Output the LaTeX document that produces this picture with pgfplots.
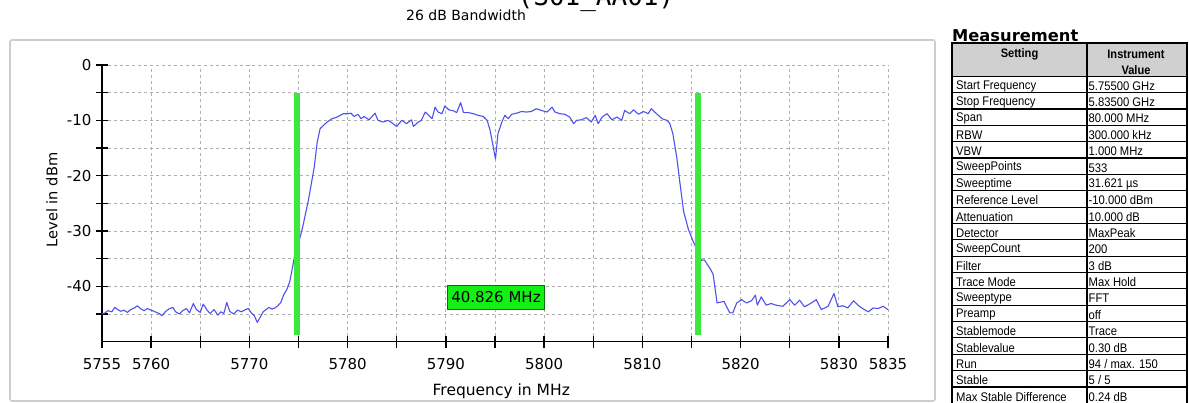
\documentclass[border=0pt]{standalone}
\usepackage{pgfplots}
\pgfplotsset{compat=1.18}
\usepackage{fontspec}
\setmainfont{DejaVu Sans}
\newfontfamily\tblfont[FakeStretch=0.9]{Liberation Sans}
\newfontfamily\monofont{DejaVu Sans Mono}
\definecolor{trace}{RGB}{80,80,240}
\definecolor{mkgreen}{RGB}{60,232,60}
\definecolor{boxgreen}{RGB}{20,240,20}
\definecolor{hdrgray}{RGB}{208,208,208}
\definecolor{gridgray}{RGB}{175,175,175}
\definecolor{framegray}{RGB}{205,205,205}

\newcommand{\trow}[3]{%
  \pgfmathsetmacro{\yy}{402-76.3-16.35*(#1+0.5)-1.5}%
  \node[anchor=west,inner sep=0pt,font=\tblfont\fontsize{12.5}{14}\selectfont] at (956pt,\yy pt) {#2};%
  \node[anchor=west,inner sep=0pt,font=\tblfont\fontsize{12.5}{14}\selectfont] at (1088.5pt,\yy pt) {#3};}

\begin{document}
\begin{tikzpicture}
\useasboundingbox (0pt,0pt) rectangle (1189pt,402pt);
% outer frame of the chart
\draw[framegray, line width=1.6pt, rounded corners=2pt] (10pt,1pt) rectangle (935pt,362pt);
% clipped top title
\node[anchor=base, font=\monofont\fontsize{26}{30}\selectfont, inner sep=0pt] at (596pt,396pt) {(S01\_AA01)};
\node[font=\fontsize{14}{16}\selectfont] at (466pt,387pt) {26 dB Bandwidth};

\begin{axis}[
  at={(102pt,60.3pt)}, anchor=south west,
  scale only axis, width=786pt, height=276.7pt,
  xmin=5755, xmax=5835, ymin=-50, ymax=0,
  axis x line*=bottom, axis y line*=left,
  axis line style={-, black, line width=1.5pt},
  xtick={5755,5760,5765,5770,5775,5780,5785,5790,5795,5800,5805,5810,5815,5820,5825,5830,5835},
  xticklabels={5755,5760,{},5770,{},5780,{},5790,{},5800,{},5810,{},5820,{},5830,5835},
  ytick={-40,-30,-20,-10,0},
  yticklabels={-40,-30,-20,-10,0},
  minor ytick={-45,-35,-25,-15,-5},
  grid=both,
  major grid style={gridgray, dashed, line width=0.9pt, dash pattern=on 3pt off 3pt},
  minor grid style={gridgray, dashed, line width=0.9pt, dash pattern=on 3pt off 3pt},
  tick align=center,
  major tick length=12pt, minor tick length=12pt,
  every tick/.style={black, line width=1.3pt},
  minor tick style={black, line width=1.3pt},
  tick label style={font=\fontsize{15}{17}\selectfont},
  /pgf/number format/assume math mode=true,
  xticklabel style={yshift=-7pt},
  yticklabel style={xshift=-1pt},
  xlabel={Frequency in MHz},
  ylabel={Level in dBm},
  xlabel style={font=\fontsize{15.5}{18}\selectfont, at={(axis description cs:0.508,-0.178)}, anchor=center},
  ylabel style={font=\fontsize{14.6}{17}\selectfont, at={(axis description cs:-0.0636,0.512)}, anchor=center, rotate=0},
  clip=false,
]
\addplot[color=trace, line width=1.1pt, line join=round] coordinates {
(5755.0,-45.0) (5755.3,-44.8) (5755.6,-44.4) (5756.0,-44.6) (5756.3,-43.8) (5756.6,-44.2)
(5756.9,-44.5) (5757.2,-44.3) (5757.6,-44.7) (5757.9,-44.2) (5758.3,-43.9) (5758.6,-43.5)
(5758.9,-44.0) (5759.3,-44.4) (5759.6,-44.0) (5760.0,-44.3) (5760.4,-44.6) (5760.8,-44.9)
(5761.1,-45.3) (5761.5,-44.5) (5761.8,-44.1) (5762.2,-43.8) (5762.5,-44.6) (5762.9,-45.0)
(5763.2,-44.4) (5763.6,-44.0) (5763.9,-44.8) (5764.3,-43.1) (5764.6,-44.2) (5765.0,-44.7)
(5765.3,-43.2) (5765.7,-44.3) (5766.0,-44.9) (5766.4,-44.2) (5766.8,-45.2) (5767.1,-44.6)
(5767.4,-44.9) (5767.7,-42.9) (5768.0,-44.5) (5768.4,-45.0) (5768.8,-44.3) (5769.2,-44.6)
(5769.6,-44.2) (5769.9,-44.0) (5770.2,-44.8) (5770.5,-45.3) (5770.8,-46.5) (5771.1,-45.6)
(5771.4,-44.6) (5771.7,-44.2) (5772.0,-43.8) (5772.3,-44.1) (5772.6,-43.9) (5772.9,-43.5)
(5773.2,-42.9) (5773.5,-41.5) (5773.8,-40.6) (5774.1,-39.2) (5774.4,-36.5) (5774.6,-34.5)
(5774.8,-33.0) (5775.1,-31.5) (5775.4,-29.5) (5775.7,-27.0) (5776.0,-24.5) (5776.3,-21.5)
(5776.6,-18.5) (5776.9,-14.0) (5777.2,-11.5) (5777.6,-10.8) (5778.0,-10.2) (5778.4,-9.7)
(5778.8,-9.5) (5779.05,-9.3) (5779.56,-8.8) (5780.04,-8.8) (5780.34,-8.7) (5780.65,-9.3)
(5781.06,-8.9) (5781.36,-9.7) (5781.67,-9.3) (5782.18,-9.9) (5782.79,-8.7) (5783.09,-10.0)
(5783.6,-10.3) (5784.11,-10.0) (5784.62,-10.6) (5785.0,-11.1) (5785.5,-10.0) (5786.0,-10.6)
(5786.5,-9.9) (5786.7,-11.1) (5787.2,-10.3) (5787.5,-10.0) (5787.9,-8.5) (5788.2,-9.0)
(5788.6,-9.7) (5788.9,-7.6) (5789.2,-8.5) (5789.6,-8.8) (5789.9,-7.4) (5790.3,-8.1)
(5790.8,-8.3) (5791.1,-8.6) (5791.5,-6.8) (5791.8,-8.6) (5792.3,-8.6) (5792.8,-8.8)
(5793.3,-9.1) (5793.8,-9.3) (5794.2,-10.0) (5794.5,-11.8) (5794.8,-14.6) (5795.05,-17.0)
(5795.3,-12.4) (5795.7,-10.3) (5796.0,-9.1) (5796.35,-9.7) (5796.7,-8.9) (5797.2,-8.7)
(5797.7,-8.4) (5798.2,-8.5) (5798.7,-8.4) (5799.2,-7.9) (5799.7,-8.2) (5800.3,-8.5)
(5800.8,-7.6) (5801.1,-8.5) (5801.6,-8.8) (5802.1,-8.9) (5802.6,-9.4) (5803.0,-10.6)
(5803.3,-10.0) (5803.8,-9.9) (5804.3,-9.5) (5804.8,-10.3) (5805.2,-9.1) (5805.5,-10.6)
(5805.9,-9.4) (5806.4,-8.8) (5806.9,-9.9) (5807.4,-9.4) (5807.9,-10.0) (5808.2,-8.2)
(5808.7,-8.8) (5809.1,-8.1) (5809.6,-8.9) (5810.1,-8.4) (5810.6,-8.8) (5810.9,-7.9)
(5811.5,-8.9) (5812.0,-9.7) (5812.5,-10.0) (5812.8,-10.6) (5813.1,-12.4) (5813.5,-16.7)
(5813.8,-21.0) (5814.2,-26.5) (5814.7,-29.8) (5815.2,-32.0) (5815.6,-33.5) (5816.0,-35.3)
(5816.3,-35.2) (5816.9,-36.8) (5817.2,-37.8) (5817.6,-43.0) (5818.3,-42.7) (5818.9,-44.8)
(5819.2,-44.8) (5819.6,-43.0) (5820.1,-42.4) (5820.6,-43.0) (5821.1,-42.6) (5821.5,-41.6)
(5821.7,-43.4) (5822.1,-41.9) (5822.6,-43.4) (5823.1,-43.1) (5823.6,-43.4) (5824.3,-43.6)
(5825.0,-42.4) (5825.5,-43.4) (5826.0,-42.5) (5826.5,-43.7) (5827.2,-43.0) (5827.7,-42.4)
(5828.2,-44.2) (5828.9,-43.6) (5829.5,-41.3) (5829.9,-43.7) (5830.4,-43.5) (5830.9,-43.9)
(5831.5,-42.6) (5832.0,-43.5) (5832.5,-44.1) (5833.0,-44.6) (5833.5,-43.9) (5834.0,-44.0)
(5834.5,-43.6) (5835.0,-44.2)
};
\addplot[color=mkgreen, line width=6pt] coordinates {(5774.8,-5.1) (5774.8,-48.8)};
\addplot[color=mkgreen, line width=6pt] coordinates {(5815.626,-5.1) (5815.626,-48.8)};
\node[fill=boxgreen, draw=green!45!black, line width=0.5pt, inner xsep=4pt, minimum height=24pt,
      font=\fontsize{15}{17}\selectfont] at (axis cs:5795.1,-41.9) {40.826 MHz};
\end{axis}

% measurement table
\node[anchor=base west, inner sep=0pt, font=\bfseries\fontsize{16.3}{18}\selectfont] at (952pt,360.8pt) {Measurement};
\fill[hdrgray] (952pt,359pt) rectangle (1187pt,325.7pt);
\foreach \k in {0,...,19} {
  \draw[black, line width=1.1pt] (952pt,{(325.7-16.35*\k)*1pt}) -- (1187pt,{(325.7-16.35*\k)*1pt});
}
\draw[black, line width=1.3pt] (952pt,-2pt) -- (952pt,359pt) -- (1187pt,359pt) -- (1187pt,-2pt);
\draw[black, line width=1.1pt] (1087pt,359pt) -- (1087pt,-2pt);
\node[font=\tblfont\bfseries\fontsize{12.3}{14}\selectfont] at (1019.5pt,348pt) {Setting};
\node[font=\tblfont\bfseries\fontsize{12.3}{14}\selectfont] at (1136pt,348pt) {Instrument};
\node[font=\tblfont\bfseries\fontsize{12.3}{14}\selectfont] at (1136pt,331.5pt) {Value};
\trow{0}{Start Frequency}{5.75500 GHz}
\trow{1}{Stop Frequency}{5.83500 GHz}
\trow{2}{Span}{80.000 MHz}
\trow{3}{RBW}{300.000 kHz}
\trow{4}{VBW}{1.000 MHz}
\trow{5}{SweepPoints}{533}
\trow{6}{Sweeptime}{31.621 µs}
\trow{7}{Reference Level}{-10.000 dBm}
\trow{8}{Attenuation}{10.000 dB}
\trow{9}{Detector}{MaxPeak}
\trow{10}{SweepCount}{200}
\trow{11}{Filter}{3 dB}
\trow{12}{Trace Mode}{Max Hold}
\trow{13}{Sweeptype}{FFT}
\trow{14}{Preamp}{off}
\trow{15}{Stablemode}{Trace}
\trow{16}{Stablevalue}{0.30 dB}
\trow{17}{Run}{94 / max. 150}
\trow{18}{Stable}{5 / 5}
\trow{19}{Max Stable Difference}{0.24 dB}
\end{tikzpicture}
\end{document}
